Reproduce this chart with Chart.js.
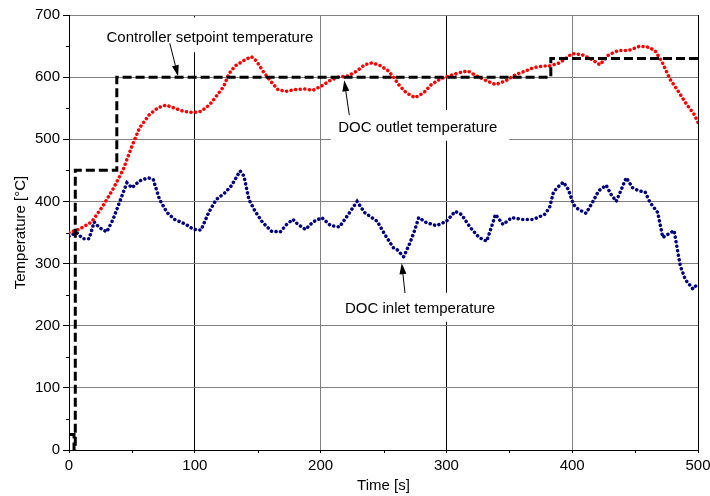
<!DOCTYPE html>
<html>
<head>
<meta charset="utf-8">
<script src="https://cdn.jsdelivr.net/npm/chart.js@4.4.0/dist/chart.umd.min.js"></script>
<style>
html, body { margin: 0; padding: 0; background: #fff; }
</style>
</head>
<body>
<canvas id="tempChart" width="710" height="496"></canvas>
<script>
// values
const setpointTime = [0, 4, 4, 5, 5, 38, 38, 383, 383, 500];
const setpointTemp = [25, 25, 0, 0, 450, 450, 600, 600, 630, 630];

const outletTime = [0, 8, 18, 27, 35, 43, 50, 56, 64, 71, 77, 84, 91, 99, 105, 112, 117, 123, 127, 132, 140, 145, 149, 154, 160, 166, 172, 180, 187, 194, 201, 207, 214, 222, 229, 235, 241, 247, 254, 259, 262, 268, 275, 282, 288, 295, 302, 310, 317, 324, 332, 339, 347, 355, 363, 369, 377, 382, 390, 400, 408, 416, 422, 429, 437, 445, 454, 461, 466, 471, 478, 485, 491, 497, 500];
const outletTemp = [350, 355, 367, 393, 420, 451, 489, 518, 540, 551, 555, 550, 545, 543, 545, 556, 569, 585, 605, 618, 628, 633, 626, 610, 594, 580, 577, 580, 581, 579, 586, 594, 600, 602, 610, 620, 623, 619, 610, 597, 588, 575, 567, 575, 588, 597, 602, 607, 610, 602, 594, 588, 594, 604, 610, 615, 618, 618, 623, 638, 636, 628, 620, 636, 643, 643, 650, 648, 642, 626, 596, 575, 556, 540, 527];

const inletTime = [0, 6, 11, 16, 20, 24, 30, 35, 40, 46, 50, 56, 63, 67, 72, 78, 84, 93, 99, 105, 111, 117, 124, 129, 136, 139, 143, 148, 154, 161, 168, 173, 178, 182, 188, 194, 201, 208, 215, 222, 229, 235, 245, 251, 258, 261, 266, 271, 275, 278, 284, 292, 300, 307, 312, 319, 326, 332, 336, 339, 345, 352, 360, 369, 378, 382, 385, 388, 393, 397, 401, 405, 411, 416, 421, 427, 431, 435, 439, 443, 448, 453, 458, 462, 468, 472, 476, 481, 484, 486, 490, 496, 500];
const inletTemp = [344, 350, 340, 340, 367, 358, 351, 371, 398, 430, 422, 433, 438, 435, 403, 382, 371, 363, 355, 354, 382, 403, 414, 425, 449, 441, 403, 384, 366, 352, 351, 363, 371, 363, 355, 367, 374, 361, 359, 379, 400, 382, 368, 347, 325, 322, 311, 333, 355, 374, 366, 361, 368, 384, 379, 358, 342, 336, 360, 379, 363, 374, 371, 371, 379, 390, 414, 422, 431, 419, 395, 387, 381, 398, 417, 426, 411, 400, 419, 438, 422, 417, 415, 398, 382, 342, 347, 353, 318, 296, 274, 259, 268];

const toPoints = (xs, ys) => xs.map((x, i) => ({ x: x, y: ys[i] }));

// text notes with arrows, in data units
const notes = [
  { text: 'Controller setpoint temperature', x: 29.8, y: 657, box: [24.4, 198.7, 640, 696], from: [80.1, 654.6], to: [86.7, 601.6] },
  { text: 'DOC outlet temperature', x: 214, y: 512, box: [208.2, 349.9, 497.6, 547], from: [222.8, 539], to: [218.8, 595] },
  { text: 'DOC inlet temperature', x: 219.4, y: 220.4, box: [211.4, 349.1, 206.4, 253], from: [267.1, 252.5], to: [264.5, 300.7] }
];

const notesPlugin = {
  id: 'notes',
  beforeDatasetsDraw(chart) {
    const { ctx, scales: { x, y } } = chart;
    ctx.save();
    ctx.fillStyle = '#fff';
    notes.forEach(n => {
      const x1 = x.getPixelForValue(n.box[0]), x2 = x.getPixelForValue(n.box[1]);
      const y1 = y.getPixelForValue(n.box[3]), y2 = y.getPixelForValue(n.box[2]);
      ctx.fillRect(x1, y1, x2 - x1, y2 - y1);
    });
    ctx.restore();
  },
  afterDatasetsDraw(chart) {
    const { ctx, scales: { x, y } } = chart;
    ctx.save();
    ctx.fillStyle = '#000';
    ctx.strokeStyle = '#000';
    ctx.font = '15px "Liberation Sans", Arial, sans-serif';
    ctx.textBaseline = 'alphabetic';
    ctx.textAlign = 'left';
    notes.forEach(n => {
      ctx.fillText(n.text, x.getPixelForValue(n.x), y.getPixelForValue(n.y));
      const fx = x.getPixelForValue(n.from[0]), fy = y.getPixelForValue(n.from[1]);
      const tx = x.getPixelForValue(n.to[0]), ty = y.getPixelForValue(n.to[1]);
      const ang = Math.atan2(ty - fy, tx - fx);
      const len = 11, half = 3.5;
      const bx = tx - len * Math.cos(ang), by = ty - len * Math.sin(ang);
      ctx.lineWidth = 1;
      ctx.beginPath();
      ctx.moveTo(fx, fy);
      ctx.lineTo(bx, by);
      ctx.stroke();
      ctx.beginPath();
      ctx.moveTo(tx, ty);
      ctx.lineTo(bx + half * Math.sin(ang), by - half * Math.cos(ang));
      ctx.lineTo(bx - half * Math.sin(ang), by + half * Math.cos(ang));
      ctx.closePath();
      ctx.fill();
    });
    ctx.restore();
  },
  afterDraw(chart) {
    // minor ticks every 50
    const { ctx, chartArea, scales: { x, y } } = chart;
    ctx.save();
    ctx.strokeStyle = '#000';
    ctx.lineWidth = 1;
    ctx.beginPath();
    for (let v = 50; v < 700; v += 100) {
      const py = Math.round(y.getPixelForValue(v)) + 0.5;
      ctx.moveTo(chartArea.left - 3, py);
      ctx.lineTo(chartArea.left, py);
    }
    for (let t = 50; t < 500; t += 100) {
      const px = Math.round(x.getPixelForValue(t)) + 0.5;
      ctx.moveTo(px, chartArea.bottom);
      ctx.lineTo(px, chartArea.bottom + 3);
    }
    ctx.stroke();
    ctx.restore();
  }
};

Chart.defaults.font.family = '"Liberation Sans", Arial, sans-serif';
Chart.defaults.font.size = 15;
Chart.defaults.color = '#000';

const ctx = document.getElementById('tempChart').getContext('2d');
const tempChart = new Chart(ctx, {
  type: 'scatter',
  data: {
    datasets: [
      {
        label: 'Controller setpoint temperature',
        data: toPoints(setpointTime, setpointTemp),
        showLine: true,
        borderColor: '#000',
        borderWidth: 3,
        borderDash: [9, 4],
        pointRadius: 0,
        tension: 0
      },
      {
        label: 'DOC outlet temperature',
        data: toPoints(outletTime, outletTemp),
        showLine: true,
        borderColor: '#ff0000',
        borderWidth: 3.5,
        borderDash: [0.1, 4.5],
        borderCapStyle: 'round',
        pointRadius: 0,
        tension: 0
      },
      {
        label: 'DOC inlet temperature',
        data: toPoints(inletTime, inletTemp),
        showLine: true,
        borderColor: '#000080',
        borderWidth: 3.5,
        borderDash: [0.1, 4.5],
        borderCapStyle: 'round',
        pointRadius: 0,
        tension: 0
      }
    ]
  },
  options: {
    responsive: false,
    animation: false,
    devicePixelRatio: 1,
    layout: { padding: { left: 0, right: 12, top: 15, bottom: 0 } },
    plugins: {
      legend: { display: false },
      tooltip: { enabled: false }
    },
    scales: {
      x: {
        type: 'linear',
        min: 0,
        max: 500,
        ticks: { stepSize: 100, padding: 4 },
        grid: {
          color: c => (c.tick && (c.tick.value === 100 || c.tick.value === 300 || c.tick.value === 500)) ? '#000' : '#808080',
          tickColor: '#000',
          tickLength: 3
        },
        border: { color: '#000', width: 1 },
        title: { display: true, text: 'Time [s]', padding: { top: 0, bottom: 1 } },
        afterFit: s => { s.height = 46; s.paddingLeft = 0; s.paddingRight = 0; }
      },
      y: {
        min: 0,
        max: 700,
        ticks: { stepSize: 100, padding: 3 },
        grid: { color: '#808080', tickColor: '#000', tickLength: 6 },
        border: { color: '#000', width: 1 },
        title: { display: true, text: 'Temperature [°C]', padding: { top: 12, bottom: 0 } },
        afterFit: s => { s.width = 69; s.paddingTop = 0; s.paddingBottom = 0; }
      }
    }
  },
  plugins: [notesPlugin]
});
</script>
</body>
</html>
